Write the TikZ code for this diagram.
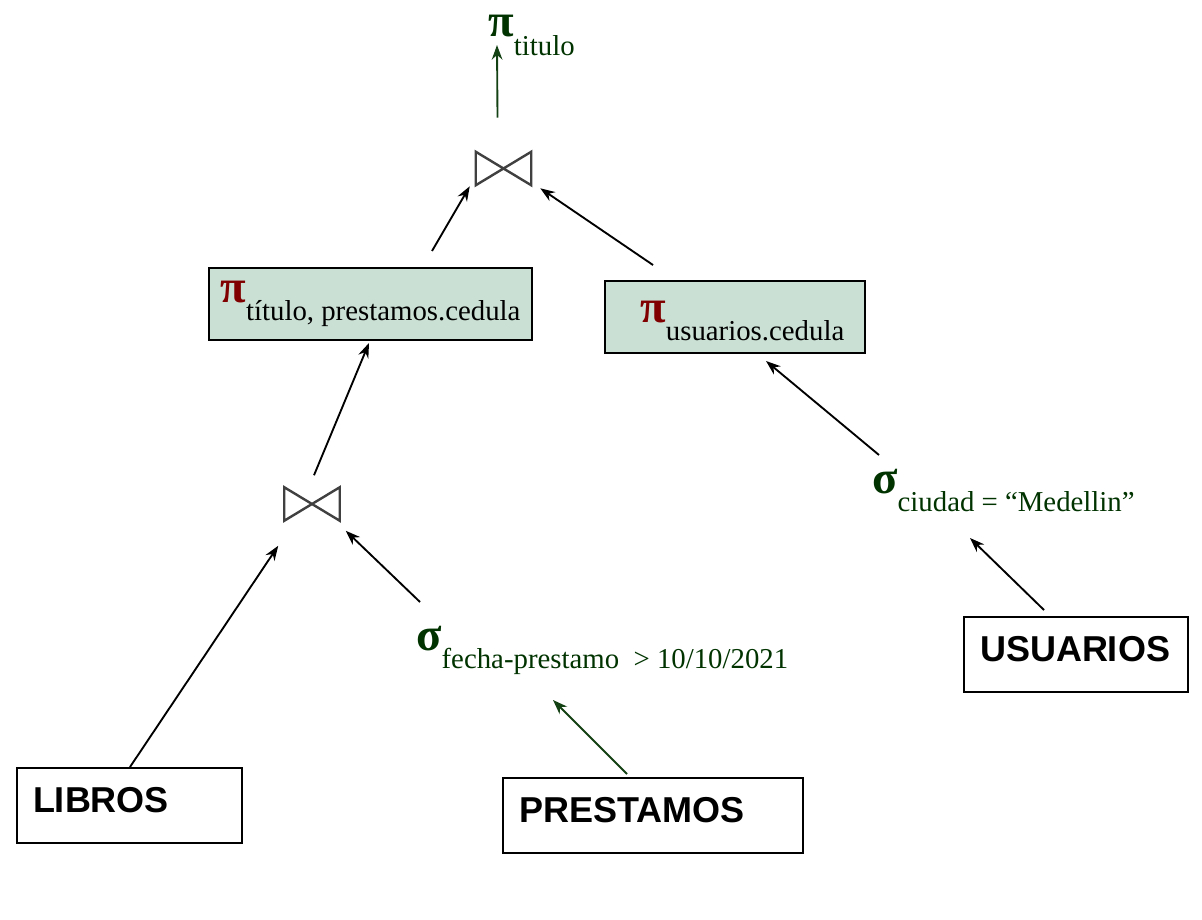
\documentclass[tikz,border=0pt]{standalone}
\usepackage{fontspec}
\setmainfont{Liberation Serif}
\setsansfont{Liberation Sans}
\usetikzlibrary{arrows.meta,positioning}
\definecolor{opgreen}{RGB}{0,51,0}
\definecolor{arrowgreen}{RGB}{20,65,20}
\definecolor{opred}{RGB}{128,0,0}
\definecolor{projfill}{RGB}{202,224,212}
\definecolor{joingray}{RGB}{64,64,64}
% operator symbol followed by its lowered subscript
\newcommand{\relop}[2]{{\fontsize{35pt}{35pt}\selectfont\bfseries\color{#1}#2}\raisebox{-14pt}}
\tikzset{%
  >={Stealth[width=8pt,length=11pt]},
  % Specifications for style of nodes:
        label/.style = {inner sep=0pt, anchor=base west,
                        font=\fontsize{21.6pt}{26pt}\selectfont},
     projbox/.style = {label, anchor=center, draw=black, line width=1.5pt,
                        fill=projfill, inner xsep=0pt, inner ysep=0pt},
    tablebox/.style = {rectangle, draw=black, line width=1.5pt, align=left,
                        inner xsep=12pt, inner ysep=0pt,
                        text height=33pt, text depth=23.25pt,
                        font=\sffamily\bfseries\fontsize{27pt}{30pt}\selectfont},
     joinsym/.style = {minimum width=41.25pt, minimum height=24.75pt, inner sep=0pt},
    joinline/.style = {draw=joingray, line width=1.8pt, line join=miter},
       flow/.style  = {->, line width=1.4pt},
}
\begin{document}
\begin{tikzpicture}[x=0.75pt,y=-0.75pt]
  \useasboundingbox (0,0) rectangle (1202,920);
  % Specification of nodes (position, etc.)
  \node (projtop)   [label] at (488,37)
        {\relop{opgreen}{π}{\color{opgreen}titulo}};
  \node (topjoin)   [joinsym] at (503.5,168.5) {};
  \node (projleft)  [projbox, minimum width=242.25pt,
                     text height=25.5pt, text depth=28.5pt] at (370.5,304)
        {\relop{opred}{π}{título, prestamos.cedula}};
  \node (projright) [projbox, minimum width=195pt,
                     text height=30.75pt, text depth=23.25pt] at (735,317)
        {\hspace*{11pt}\relop{opred}{π}{usuarios.cedula}};
  \node (lowjoin)   [joinsym] at (312,504) {};
  \node (sigfecha)  [label] at (416,650)
        {\relop{opgreen}{σ}{\color{opgreen}fecha-prestamo\ \ > 10/10/2021}};
  \node (sigciudad) [label] at (872,493)
        {\relop{opgreen}{σ}{\color{opgreen}ciudad = “Medellin”}};
  \node (libros)    [tablebox, text width=144.75pt] at (129.5,805.5) {LIBROS};
  \node (prestamos) [tablebox, text width=201pt] at (653,815.5) {PRESTAMOS};
  \node (usuarios)  [tablebox, text width=144pt] at (1076,654.5) {USUARIOS};

  % bow-tie join symbols
  \draw[joinline] (topjoin.north west) -- (topjoin.south east) -- (topjoin.north east)
        -- (topjoin.south west) -- cycle;
  \draw[joinline] (lowjoin.north west) -- (lowjoin.south east) -- (lowjoin.north east)
        -- (lowjoin.south west) -- cycle;

  % Specification of lines between nodes specified above
\draw[flow, arrowgreen] ([shift={(-6,-34)}]topjoin.north) -- ([shift={(9,8)}]projtop.base west);
\draw[flow] ([shift={(61.5,-16)}]projleft.north) -- ([shift={(-6,1)}]topjoin.south west);
\draw[flow] ([shift={(-82,-15)}]projright.north) -- ([shift={(9,3)}]topjoin.south east);
\draw[flow] ([shift={(2,-12)}]lowjoin.north) -- ([shift={(-1.5,2)}]projleft.south);
\draw[flow] ([shift={(0.5,0)}]libros.north) -- ([shift={(-6,25)}]lowjoin.south west);
\draw[flow] ([shift={(4,-48)}]sigfecha.base west) -- ([shift={(6,10)}]lowjoin.south east);
\draw[flow, arrowgreen] ([shift={(-26,-3)}]prestamos.north) -- ([shift={(137,50)}]sigfecha.base west);
\draw[flow] ([shift={(-32,-6)}]usuarios.north) -- ([shift={(98,45)}]sigciudad.base west);
\draw[flow] ([shift={(7,-38)}]sigciudad.base west) -- ([shift={(31,7)}]projright.south);
\end{tikzpicture}
\end{document}
